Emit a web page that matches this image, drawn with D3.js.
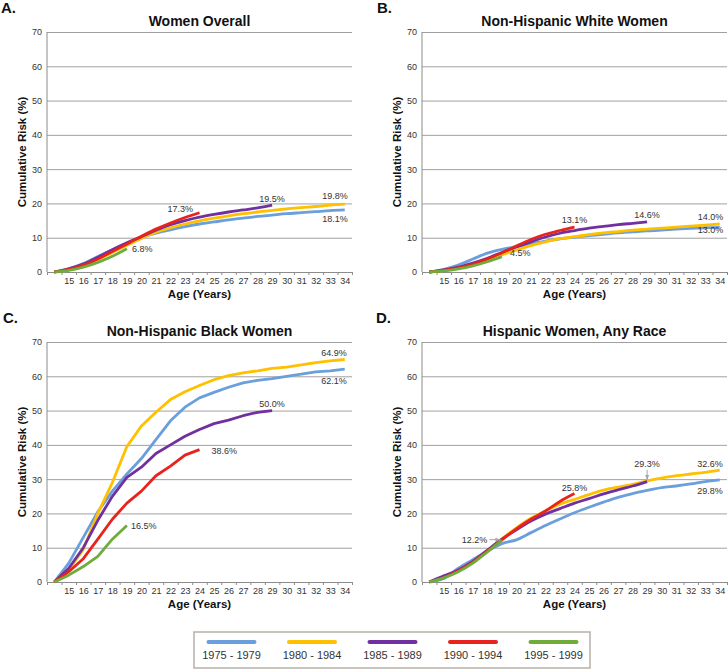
<!DOCTYPE html>
<html>
<head>
<meta charset="utf-8">
<script src="https://cdn.jsdelivr.net/npm/d3@7"></script>
<style>
  html, body { margin: 0; padding: 0; background: #fff; }
  svg { display: block; font-family: "Liberation Sans", Arial, sans-serif; }
</style>
</head>
<body>
<svg id="chart" width="728" height="670"></svg>
<script>
// ---------------- DATA ----------------
const ages = [14, 15, 16, 17, 18, 19, 20, 21, 22, 23, 24, 25, 26, 27, 28, 29, 30, 31, 32, 33, 34];
const ageTickLabels = [15, 16, 17, 18, 19, 20, 21, 22, 23, 24, 25, 26, 27, 28, 29, 30, 31, 32, 33, 34];
const yTicks = [0, 10, 20, 30, 40, 50, 60, 70];
const cohorts = ["1975 - 1979", "1980 - 1984", "1985 - 1989", "1990 - 1994", "1995 - 1999"];
const cohortColors = ["#6b9fdb", "#ffc000", "#7030a0", "#e8231e", "#6fac3a"];
const panelTitles = ["Women Overall", "Non-Hispanic White Women", "Non-Hispanic Black Women", "Hispanic Women, Any Race"];
const panelLetters = ["A.", "B.", "C.", "D."];

// A. Women overall
const overall_1975 = [0, 1.0, 2.5, 4.5, 6.5, 8.3, 10.0, 11.3, 12.3, 13.2, 14.0, 14.6, 15.2, 15.7, 16.2, 16.6, 17.0, 17.3, 17.6, 17.9, 18.1];
const overall_1980 = [0, 0.8, 2.0, 3.7, 5.7, 7.8, 9.8, 11.6, 12.9, 14.0, 14.9, 15.7, 16.4, 17.0, 17.5, 18.0, 18.4, 18.8, 19.1, 19.5, 19.8];
const overall_1985 = [0, 0.9, 2.3, 4.3, 6.5, 8.5, 10.3, 12.2, 13.8, 15.0, 16.0, 16.8, 17.5, 18.1, 18.7, 19.5];
const overall_1990 = [0, 0.8, 2.0, 3.8, 6.0, 8.2, 10.4, 12.5, 14.3, 15.9, 17.3];
const overall_1995 = [0, 0.5, 1.4, 2.8, 4.6, 6.8];

// B. Non-Hispanic white women
const white_1975 = [0, 0.8, 2.0, 3.8, 5.5, 6.6, 7.4, 8.2, 9.0, 9.7, 10.2, 10.6, 11.0, 11.4, 11.7, 12.0, 12.2, 12.5, 12.7, 12.9, 13.0];
const white_1980 = [0, 0.5, 1.3, 2.4, 3.7, 5.0, 6.4, 7.7, 8.8, 9.7, 10.3, 10.9, 11.4, 11.8, 12.2, 12.5, 12.8, 13.1, 13.4, 13.7, 14.0];
const white_1985 = [0, 0.6, 1.4, 2.6, 4.0, 5.7, 7.3, 8.8, 10.2, 11.3, 12.1, 12.8, 13.3, 13.8, 14.2, 14.6];
const white_1990 = [0, 0.5, 1.2, 2.3, 3.8, 5.6, 7.6, 9.5, 11.0, 12.1, 13.1];
const white_1995 = [0, 0.3, 0.9, 1.8, 3.0, 4.5];

// C. Non-Hispanic black women
const black_1975 = [0, 5.5, 13.0, 20.5, 26.5, 31.5, 36.0, 41.5, 47.0, 51.0, 53.7, 55.3, 56.8, 58.1, 58.8, 59.3, 60.0, 60.6, 61.3, 61.6, 62.1];
const black_1980 = [0, 3.5, 9.5, 20.0, 29.0, 39.5, 45.5, 49.5, 53.2, 55.5, 57.3, 59.0, 60.2, 61.0, 61.6, 62.3, 62.7, 63.3, 64.0, 64.5, 64.9];
const black_1985 = [0, 4.0, 10.0, 18.0, 25.0, 30.5, 33.5, 37.5, 40.0, 42.5, 44.5, 46.2, 47.2, 48.5, 49.5, 50.0];
const black_1990 = [0, 3.0, 6.8, 12.5, 18.3, 23.0, 26.5, 31.0, 33.8, 37.0, 38.6];
const black_1995 = [0, 2.0, 4.5, 7.5, 12.5, 16.5];

// D. Hispanic women, any race
const hisp_1975 = [0, 1.0, 4.0, 6.5, 9.0, 11.2, 12.3, 14.4, 16.5, 18.4, 20.2, 21.8, 23.3, 24.7, 25.8, 26.7, 27.5, 28.0, 28.6, 29.3, 29.8];
const hisp_1980 = [0, 1.5, 3.2, 5.8, 9.0, 12.6, 15.8, 18.6, 20.7, 22.7, 24.1, 25.5, 26.8, 27.7, 28.5, 29.5, 30.3, 31.0, 31.5, 32.0, 32.6];
const hisp_1985 = [0, 1.8, 3.5, 6.0, 9.3, 12.5, 15.2, 17.8, 19.8, 21.4, 23.0, 24.3, 25.7, 26.9, 28.0, 29.3];
const hisp_1990 = [0, 1.3, 3.3, 5.8, 9.0, 12.3, 15.5, 18.3, 20.7, 23.5, 25.8];
const hisp_1995 = [0, 1.2, 3.0, 5.5, 8.8, 12.2];

// ---------------- LAYOUT / STYLE ----------------
const W = 305, H = 240;
const FONT_TICK = 9, FONT_TITLE = 14, FONT_AXIS = 11.5, FONT_LETTER = 15;
const TEXT = "#333";

// label placement: [seriesIndex, dx, dy, anchor, arrow]
const panels = [
  { left: 47, top: 32, letterX: 1, smooth: true,
    series: [overall_1975, overall_1980, overall_1985, overall_1990, overall_1995],
    labels: [[0, 3, 12.5, "end"], [1, 3, -5, "end"], [2, 0, -3, "middle"], [3, -6.5, -0.5, "end"], [4, 5, 3.5, "start"]] },
  { left: 422, top: 32, letterX: 377, smooth: true,
    series: [white_1975, white_1980, white_1985, white_1990, white_1995],
    labels: [[0, 3.5, 5.5, "end"], [1, 3.5, -4, "end"], [2, 0, -4, "middle"], [3, 0, -4, "middle"], [4, 8, -1, "start"]] },
  { left: 47, top: 342, letterX: 3, smooth: false,
    series: [black_1975, black_1980, black_1985, black_1990, black_1995],
    labels: [[0, 2, 14.5, "end"], [1, 2, -3.5, "end"], [2, 0, -3.7, "middle"], [3, 12, 4.6, "start"], [4, 4, 4, "start"]] },
  { left: 422, top: 342, letterX: 376, smooth: true,
    series: [hisp_1975, hisp_1980, hisp_1985, hisp_1990, hisp_1995],
    labels: [[0, 3, 13.7, "end"], [1, 3, -3.4, "end"], [2, 0, -14.7, "middle", "down"], [3, 0, -2.3, "middle"], [4, -14.5, 2.6, "end", "right"]] }
];

const svg = d3.select("#chart");
const defs = svg.append("defs");
defs.append("marker")
  .attr("id", "arrowhead").attr("viewBox", "0 0 10 10")
  .attr("refX", 9).attr("refY", 5)
  .attr("markerWidth", 5).attr("markerHeight", 5)
  .attr("orient", "auto")
  .append("path").attr("d", "M0,1 L10,5 L0,9 Z").attr("fill", "#a6a6a6");

const x = d3.scaleLinear().domain([13.5, 34.5]).range([0, W]);
const y = d3.scaleLinear().domain([0, 70]).range([H, 0]);
const fmt = d3.format(".1f");

panels.forEach((p, pi) => {
  const g = svg.append("g").attr("transform", `translate(${p.left},${p.top})`);

  // panel letter
  svg.append("text")
    .attr("x", p.letterX).attr("y", p.top - 19)
    .attr("font-size", FONT_LETTER).attr("font-weight", "bold").attr("fill", "#111")
    .text(panelLetters[pi]);

  // title
  g.append("text")
    .attr("x", W / 2).attr("y", -6.5)
    .attr("text-anchor", "middle")
    .attr("font-size", FONT_TITLE).attr("font-weight", "bold").attr("fill", "#111")
    .text(panelTitles[pi]);

  // gridlines
  const grid = g.append("g").call(
    d3.axisLeft(y).tickValues(yTicks).tickSize(-W).tickFormat("")
  );
  grid.select(".domain").remove();
  grid.selectAll("line").attr("stroke", "#a0a0a0").attr("stroke-width", 1);

  // y axis labels
  const ya = g.append("g").call(
    d3.axisLeft(y).tickValues(yTicks).tickSize(0).tickPadding(5)
  );
  ya.select(".domain").remove();
  ya.selectAll("text").attr("font-size", FONT_TICK).attr("fill", TEXT)
    .attr("font-family", "Liberation Sans, Arial, sans-serif");

  // y axis line
  g.append("line").attr("x1", 0).attr("x2", 0).attr("y1", 0).attr("y2", H)
    .attr("stroke", "#8c8c8c").attr("stroke-width", 1);

  // x axis boundary ticks
  const xb = g.append("g").attr("transform", `translate(0,${H})`).call(
    d3.axisBottom(x).tickValues(d3.range(13.5, 35, 1)).tickSize(3).tickFormat("")
  );
  xb.select(".domain").attr("stroke", "#8c8c8c");
  xb.selectAll("line").attr("stroke", "#8c8c8c");

  // x axis labels
  const xa = g.append("g").attr("transform", `translate(0,${H})`).call(
    d3.axisBottom(x).tickValues(ageTickLabels).tickSize(0).tickPadding(6)
  );
  xa.select(".domain").remove();
  xa.selectAll("text").attr("font-size", FONT_TICK).attr("fill", TEXT)
    .attr("font-family", "Liberation Sans, Arial, sans-serif");

  // axis titles
  g.append("text")
    .attr("x", W / 2).attr("y", H + 26)
    .attr("text-anchor", "middle")
    .attr("font-size", FONT_AXIS).attr("font-weight", "bold").attr("fill", "#111")
    .text("Age (Years)");
  g.append("text")
    .attr("transform", `translate(-21,${H / 2}) rotate(-90)`)
    .attr("text-anchor", "middle")
    .attr("font-size", FONT_AXIS).attr("font-weight", "bold").attr("fill", "#111")
    .text("Cumulative Risk (%)");

  // lines
  const line = d3.line()
    .x((d, i) => x(ages[i]))
    .y(d => y(d))
    .curve(p.smooth ? d3.curveMonotoneX : d3.curveLinear);

  p.series.forEach((s, si) => {
    g.append("path")
      .datum(s)
      .attr("d", line)
      .attr("fill", "none")
      .attr("stroke", cohortColors[si])
      .attr("stroke-width", 2.8)
      .attr("stroke-linejoin", "round");
  });

  // end labels
  p.labels.forEach(([si, dx, dy, anchor, arrow]) => {
    const s = p.series[si];
    const ex = x(ages[s.length - 1]);
    const ey = y(s[s.length - 1]);
    g.append("text")
      .attr("x", ex + dx).attr("y", ey + dy)
      .attr("text-anchor", anchor)
      .attr("font-size", FONT_TICK).attr("fill", TEXT)
      .text(fmt(s[s.length - 1]) + "%");
    if (arrow === "down") {
      g.append("line")
        .attr("x1", ex).attr("x2", ex)
        .attr("y1", ey + dy + 3).attr("y2", ey - 2)
        .attr("stroke", "#a6a6a6").attr("stroke-width", 1)
        .attr("marker-end", "url(#arrowhead)");
    } else if (arrow === "right") {
      g.append("line")
        .attr("x1", ex + dx + 2).attr("x2", ex - 2)
        .attr("y1", ey - 0.5).attr("y2", ey - 0.5)
        .attr("stroke", "#a6a6a6").attr("stroke-width", 1)
        .attr("marker-end", "url(#arrowhead)");
    }
  });
});

// legend
const legend = svg.append("g");
legend.append("rect")
  .attr("x", 194).attr("y", 632).attr("width", 396).attr("height", 36)
  .attr("fill", "#fff").attr("stroke", "#b8b0a8").attr("stroke-width", 1.5);
const lx = d3.scalePoint().domain(cohorts).range([231.5, 553.5]);
cohorts.forEach((c, i) => {
  const cx = lx(c);
  legend.append("line")
    .attr("x1", cx - 23).attr("x2", cx + 23)
    .attr("y1", 642).attr("y2", 642)
    .attr("stroke", cohortColors[i]).attr("stroke-width", 4)
    .attr("stroke-linecap", "round");
  legend.append("text")
    .attr("x", cx).attr("y", 659)
    .attr("text-anchor", "middle")
    .attr("font-size", 11).attr("fill", TEXT)
    .text(c);
});
</script>
</body>
</html>
